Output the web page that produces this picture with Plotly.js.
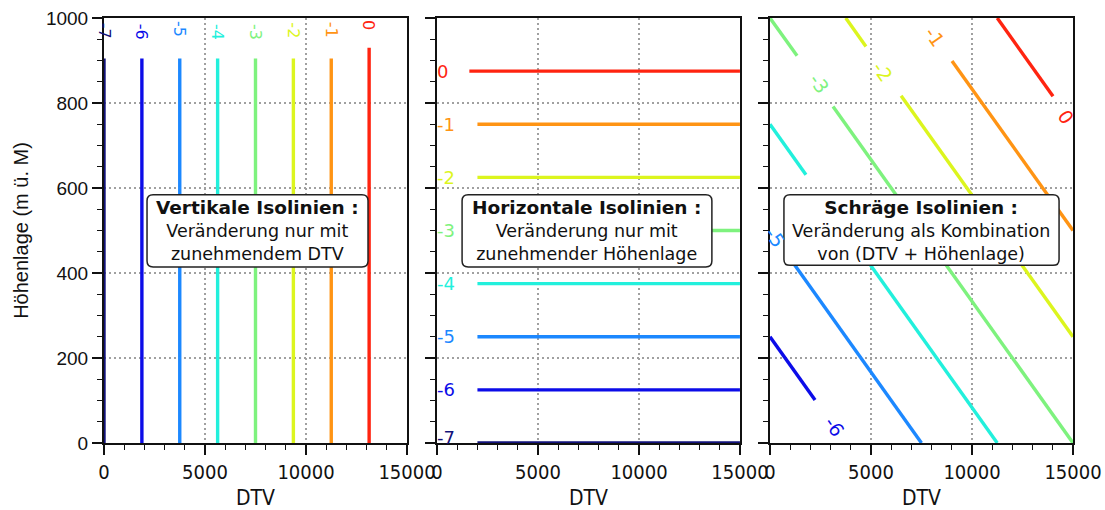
<!DOCTYPE html>
<html>
<head>
<meta charset="utf-8">
<script src="https://cdn.plot.ly/plotly-3.0.1.min.js"></script>
<style>html,body{margin:0;padding:0;background:#fff;}#chart{width:1105px;height:510px;}</style>
</head>
<body>
<div id="chart"></div>
<script>
// ---- data ----
const levelLabels = ["-7", "-6", "-5", "-4", "-3", "-2", "-1", "0"];
const levelColors = ["#12127a", "#0c0ce8", "#1c88ff", "#22f0dc", "#7ef27e", "#dcf51e", "#ff9414", "#ff2410"];

// Panel 1: vertical isolines (x = DTV)
const vertX      = [0, 1875, 3750, 5625, 7500, 9375, 11250, 13125];
const vertBottom = [0, 0, 0, 0, 0, 0, 0, 0];
const vertTop    = [905, 905, 905, 905, 905, 905, 905, 930];
const vertLabelY = [970, 968, 975, 968, 968, 970, 972, 983];

// Panel 2: horizontal isolines (y = Höhenlage)
const horizY      = [0, 125, 250, 375, 500, 625, 750, 875];
const horizStart  = [2000, 2000, 2000, 2000, 2000, 2000, 2000, 1600];
const horizEnd    = [15000, 15000, 15000, 15000, 15000, 15000, 15000, 15000];
const horizLabelX = [450, 450, 450, 450, 450, 450, 450, 250];
const horizLabelY = [12, 125, 250, 375, 500, 625, 750, 875];

// Panel 3: oblique isolines, segments per level (x0, y0, x1, y1)
const diagSegLevel = [1, 2, 3, 3, 4, 4, 5, 5, 6, 7];
const diagX0 = [0,    800,  0,    2900, 0,    3120, 3750, 6490, 9010, 11250];
const diagY0 = [250,  447,  750,  557,  1000, 792,  1000, 817,  899,  1000];
const diagX1 = [2230, 7500, 1780, 11250,1340, 15000,4750, 15000,15000,14010];
const diagY1 = [101,  0,    631,  0,    911,  0,    933,  250,  500,  816];
const diagLabelLevel = [1, 2, 4, 5, 6, 7];
const diagLabelX = [3218, 248, 2426, 5594, 8168, 14653];
const diagLabelY = [38, 485, 847, 873, 955, 767];

// text boxes
const boxTitles = ["Vertikale Isolinien :", "Horizontale Isolinien :", "Schräge Isolinien :"];
const boxLines  = [["Veränderung nur mit", "zunehmendem DTV"],
                   ["Veränderung nur mit", "zunehmender Höhenlage"],
                   ["Veränderung als Kombination", "von (DTV + Höhenlage)"]];

// ---- build ----
const traces = [];
const annotations = [];
const shapes = [];
const lw = 3.4;

for (let i = 0; i < levelLabels.length; i++) {
  traces.push({x: [vertX[i], vertX[i]], y: [vertBottom[i], vertTop[i]], xaxis: 'x', yaxis: 'y',
    mode: 'lines', line: {color: levelColors[i], width: lw}, hoverinfo: 'skip', showlegend: false});
  annotations.push({x: vertX[i], y: vertLabelY[i], xref: 'x', yref: 'y', text: levelLabels[i], showarrow: false,
    textangle: 90, font: {family: 'DejaVu Sans', size: 16, color: levelColors[i]}});
}
for (let i = 0; i < levelLabels.length; i++) {
  traces.push({x: [horizStart[i], horizEnd[i]], y: [horizY[i], horizY[i]], xaxis: 'x2', yaxis: 'y2',
    mode: 'lines', line: {color: levelColors[i], width: lw}, hoverinfo: 'skip', showlegend: false});
  annotations.push({x: horizLabelX[i], y: horizLabelY[i], xref: 'x2', yref: 'y2', text: levelLabels[i], showarrow: false,
    font: {family: 'DejaVu Sans', size: 18, color: levelColors[i]}});
}
for (let k = 0; k < diagSegLevel.length; k++) {
  const c = levelColors[diagSegLevel[k]];
  traces.push({x: [diagX0[k], diagX1[k]], y: [diagY0[k], diagY1[k]], xaxis: 'x3', yaxis: 'y3',
    mode: 'lines', line: {color: c, width: lw}, hoverinfo: 'skip', showlegend: false});
}
for (let k = 0; k < diagLabelLevel.length; k++) {
  const li = diagLabelLevel[k];
  annotations.push({x: diagLabelX[k], y: diagLabelY[k], xref: 'x3', yref: 'y3', text: levelLabels[li], showarrow: false,
    textangle: 55, font: {family: 'DejaVu Sans', size: 19, color: levelColors[li]}});
}

// rounded boxes
function roundRect(x0, x1, y0, y1, rx, ry) {
  return `M${x0+rx},${y1} L${x1-rx},${y1} Q${x1},${y1} ${x1},${y1-ry} L${x1},${y0+ry} Q${x1},${y0} ${x1-rx},${y0} ` +
         `L${x0+rx},${y0} Q${x0},${y0} ${x0},${y0+ry} L${x0},${y1-ry} Q${x0},${y1} ${x0+rx},${y1} Z`;
}
const boxX0 = [2130, 1240, 690];
const boxX1 = [13070, 13610, 14310];
const boxY0 = [414, 414, 418];
const boxY1 = [584, 584, 584];
const axIds = ['', '2', '3'];
for (let p = 0; p < 3; p++) {
  shapes.push({type: 'path', xref: 'x' + axIds[p], yref: 'y' + axIds[p], layer: 'above',
    path: roundRect(boxX0[p], boxX1[p], boxY0[p], boxY1[p], 300, 14),
    fillcolor: 'white', line: {color: '#222', width: 1.5}});
  annotations.push({x: (boxX0[p] + boxX1[p]) / 2, y: (boxY0[p] + boxY1[p]) / 2, xref: 'x' + axIds[p], yref: 'y' + axIds[p],
    showarrow: false, align: 'center',
    text: `<b><span style="font-size:18.5px">${boxTitles[p]}</span></b><br>${boxLines[p][0]}<br>${boxLines[p][1]}`,
    font: {family: 'DejaVu Sans', size: 17.5, color: '#111'}});
}

const xTickFont = {family: 'Liberation Sans Narrow, DejaVu Sans Condensed, sans-serif', size: 20, color: '#111'};
function xAxis(domain, anchor) {
  return {domain: domain, anchor: anchor, range: [0, 15000], tickmode: 'array', tickvals: [0, 5000, 10000, 15000],
    ticktext: ['0', '5000', '10000', '15000'],
    ticks: 'outside', ticklen: 10, tickwidth: 1.5, tickcolor: '#111',
    minor: {dtick: 1000, tick0: 0, ticks: 'outside', ticklen: 5, tickwidth: 1.2, tickcolor: '#111', showgrid: false},
    showline: true, linecolor: '#111', linewidth: 2, mirror: true,
    showgrid: true, gridcolor: '#a0a0a0', griddash: '2px,3px', gridwidth: 1.8, zeroline: false,
    tickfont: xTickFont,
    title: {text: 'DTV', font: {family: 'Liberation Sans Narrow, DejaVu Sans Condensed, sans-serif', size: 21, color: '#111'}, standoff: 10}};
}
function yAxis(anchor, labels) {
  const a = {anchor: anchor, domain: [0, 1], range: [0, 1000], dtick: 200, tick0: 0,
    ticks: 'outside', ticklen: 10, tickwidth: 1.5, tickcolor: '#111',
    minor: {dtick: 50, tick0: 0, ticks: 'outside', ticklen: 5, tickwidth: 1.2, tickcolor: '#111', showgrid: false},
    showline: true, linecolor: '#111', linewidth: 2, mirror: true,
    showgrid: true, gridcolor: '#a0a0a0', griddash: '2px,3px', gridwidth: 1.8, zeroline: false,
    showticklabels: labels,
    tickfont: {family: 'Liberation Sans, Arial, sans-serif', size: 19, color: '#111'}};
  if (labels) a.title = {text: 'Höhenlage (m ü. M)', font: {family: 'Liberation Sans, Arial, sans-serif', size: 20, color: '#111'}, standoff: 12};
  return a;
}

const layout = {
  width: 1105, height: 510,
  margin: {l: 104, r: 32, t: 18, b: 67},
  paper_bgcolor: 'white', plot_bgcolor: 'white',
  showlegend: false,
  xaxis: xAxis([0, 0.3127], 'y'),
  xaxis2: xAxis([0.3437, 0.6563], 'y2'),
  xaxis3: xAxis([0.6873, 1], 'y3'),
  yaxis: yAxis('x', true),
  yaxis2: yAxis('x2', false),
  yaxis3: yAxis('x3', false),
  annotations: annotations,
  shapes: shapes
};

Plotly.newPlot('chart', traces, layout, {staticPlot: true, displayModeBar: false});
</script>
</body>
</html>
